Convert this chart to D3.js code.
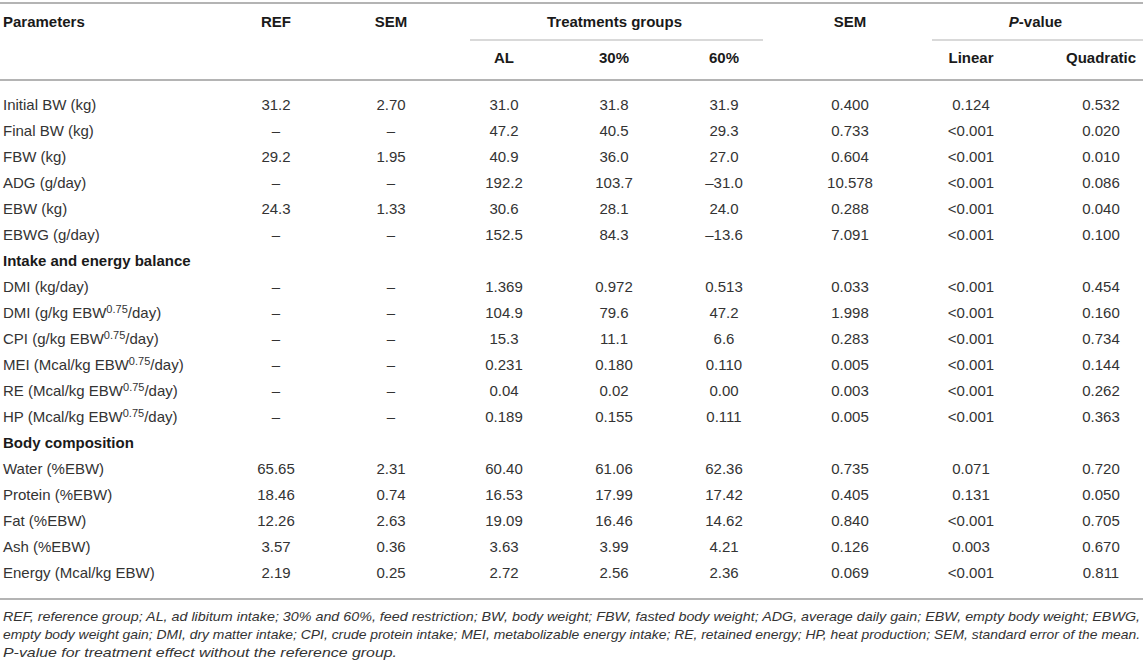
<!DOCTYPE html>
<html>
<head>
<meta charset="utf-8">
<script src="https://cdn.jsdelivr.net/npm/d3@7"></script>
<style>
  html, body { margin: 0; padding: 0; background: #fff; }
  svg { display: block; }
</style>
</head>
<body>
<svg id="chart" width="1143" height="667"></svg>
<script>
// ---------------- data ----------------
const parameters = [
  "Initial BW (kg)", "Final BW (kg)", "FBW (kg)", "ADG (g/day)", "EBW (kg)", "EBWG (g/day)",
  "Intake and energy balance",
  "DMI (kg/day)", "DMI (g/kg EBW^0.75/day)", "CPI (g/kg EBW^0.75/day)",
  "MEI (Mcal/kg EBW^0.75/day)", "RE (Mcal/kg EBW^0.75/day)", "HP (Mcal/kg EBW^0.75/day)",
  "Body composition",
  "Water (%EBW)", "Protein (%EBW)", "Fat (%EBW)", "Ash (%EBW)", "Energy (Mcal/kg EBW)"
];
const sectionRows = ["Intake and energy balance", "Body composition"];

const refValues  = ["31.2","–","29.2","–","24.3","–", null, "–","–","–","–","–","–", null, "65.65","18.46","12.26","3.57","2.19"];
const refSem     = ["2.70","–","1.95","–","1.33","–", null, "–","–","–","–","–","–", null, "2.31","0.74","2.63","0.36","0.25"];
const alValues   = ["31.0","47.2","40.9","192.2","30.6","152.5", null, "1.369","104.9","15.3","0.231","0.04","0.189", null, "60.40","16.53","19.09","3.63","2.72"];
const r30Values  = ["31.8","40.5","36.0","103.7","28.1","84.3", null, "0.972","79.6","11.1","0.180","0.02","0.155", null, "61.06","17.99","16.46","3.99","2.56"];
const r60Values  = ["31.9","29.3","27.0","–31.0","24.0","–13.6", null, "0.513","47.2","6.6","0.110","0.00","0.111", null, "62.36","17.42","14.62","4.21","2.36"];
const semValues  = ["0.400","0.733","0.604","10.578","0.288","7.091", null, "0.033","1.998","0.283","0.005","0.003","0.005", null, "0.735","0.405","0.840","0.126","0.069"];
const pLinear    = ["0.124","<0.001","<0.001","<0.001","<0.001","<0.001", null, "<0.001","<0.001","<0.001","<0.001","<0.001","<0.001", null, "0.071","0.131","<0.001","0.003","<0.001"];
const pQuadratic = ["0.532","0.020","0.010","0.086","0.040","0.100", null, "0.454","0.160","0.734","0.144","0.262","0.363", null, "0.720","0.050","0.705","0.670","0.811"];

const columnKeys   = ["REF", "SEM", "AL", "30%", "60%", "SEM2", "Linear", "Quadratic"];
const headerTop    = ["REF", "SEM", null, null, null, "SEM", null, null];
const headerBottom = [null, null, "AL", "30%", "60%", null, "Linear", "Quadratic"];
const groupHeaders = [
  { label: "Treatments groups", from: "AL", to: "60%" },
  { label: "P-value", from: "Linear", to: "Quadratic", italicPrefix: "P" }
];

const footnotes = [
  "REF, reference group; AL, ad libitum intake; 30% and 60%, feed restriction; BW, body weight; FBW, fasted body weight; ADG, average daily gain; EBW, empty body weight; EBWG,",
  "empty body weight gain; DMI, dry matter intake; CPI, crude protein intake; MEI, metabolizable energy intake; RE, retained energy; HP, heat production; SEM, standard error of the mean.",
  "P-value for treatment effect without the reference group."
];

const tableColumns = [refValues, refSem, alValues, r30Values, r60Values, semValues, pLinear, pQuadratic];

// ---------------- layout ----------------
const W = 1143;
const FONT = '"Liberation Sans", Arial, Helvetica, sans-serif';
const FS = 15;
const textColor = "#333";
const headColor = "#1a1a1a";
const ruleColor = "#b4b4b4";

const svg = d3.select("#chart").attr("font-family", FONT);

const colX = d3.scaleOrdinal().domain(columnKeys).range([276, 391, 504, 614, 724, 850, 971, 1101]);
const rowY = d3.scalePoint().domain(d3.range(parameters.length)).range([105, 573]);

const yTopRule = 3, yHead1 = 22, ySubRule = 40, yHead2 = 58, yHeadRule = 80, yBottomRule = 599;
const groupSpans = { "Treatments groups": [470, 763], "P-value": [932, 1143] };

function rule(y, x1, x2, w) {
  svg.append("line").attr("x1", x1).attr("x2", x2).attr("y1", y).attr("y2", y)
    .attr("stroke", ruleColor).attr("stroke-width", w);
}
rule(yTopRule, 0, W, 2);
rule(yHeadRule, 0, W, 2);
rule(yBottomRule, 0, W, 2);
groupHeaders.forEach(g => { const s = groupSpans[g.label]; rule(ySubRule, s[0], s[1], 1.2); });

// header texts
const head = svg.append("g").attr("font-weight", "bold").attr("font-size", FS).attr("fill", headColor);
head.append("text").attr("x", 3).attr("y", yHead1).attr("dy", "0.35em").text("Parameters");
head.selectAll("text.h1").data(columnKeys.filter((k, i) => headerTop[i]))
  .join("text").attr("class", "h1")
  .attr("x", k => colX(k)).attr("y", yHead1).attr("dy", "0.35em").attr("text-anchor", "middle")
  .text(k => headerTop[columnKeys.indexOf(k)]);
head.selectAll("text.h2").data(columnKeys.filter((k, i) => headerBottom[i]))
  .join("text").attr("class", "h2")
  .attr("x", k => colX(k)).attr("y", yHead2).attr("dy", "0.35em").attr("text-anchor", "middle")
  .text(k => headerBottom[columnKeys.indexOf(k)]);
groupHeaders.forEach(g => {
  const s = groupSpans[g.label];
  const t = head.append("text").attr("x", (s[0] + s[1]) / 2 - 2).attr("y", yHead1).attr("dy", "0.35em")
    .attr("text-anchor", "middle");
  if (g.italicPrefix) {
    t.append("tspan").attr("font-style", "italic").text(g.italicPrefix);
    t.append("tspan").text(g.label.slice(g.italicPrefix.length));
  } else t.text(g.label);
});

// body rows
const body = svg.append("g").attr("font-size", FS);
parameters.forEach((label, i) => {
  const y = rowY(i);
  const isSection = sectionRows.includes(label);
  const t = body.append("text").attr("x", 3).attr("y", y).attr("dy", "0.35em")
    .attr("fill", isSection ? headColor : textColor)
    .attr("font-weight", isSection ? "bold" : "normal");
  const parts = label.split(/\^([\d.]+)/);
  let raised = false;
  parts.forEach((p, j) => {
    if (j % 2 === 1) {
      t.append("tspan").attr("font-size", 11).attr("dy", "-0.5em").text(p);
      raised = true;
    } else if (p) {
      const ts = t.append("tspan").text(p);
      if (raised) { ts.attr("dy", "0.367em"); raised = false; }
    }
  });
});

columnKeys.forEach((k, c) => {
  body.selectAll(null).data(tableColumns[c].map((v, i) => ({ v, i })).filter(d => d.v !== null))
    .join("text")
    .attr("x", colX(k)).attr("y", d => rowY(d.i)).attr("dy", "0.35em")
    .attr("text-anchor", "middle").attr("fill", textColor)
    .text(d => d.v);
});

// footnotes
const fnY = [616, 634, 652];
const fnWidths = [1137, 1137, 394];
const fn = svg.append("g").attr("font-style", "italic").attr("fill", textColor).attr("font-size", 13.5);
fn.selectAll("text").data(footnotes).join("text")
  .attr("x", 3).attr("y", (d, i) => fnY[i]).attr("dy", "0.35em")
  .attr("textLength", (d, i) => fnWidths[i])
  .attr("lengthAdjust", "spacingAndGlyphs")
  .text(d => d);
</script>
</body>
</html>
